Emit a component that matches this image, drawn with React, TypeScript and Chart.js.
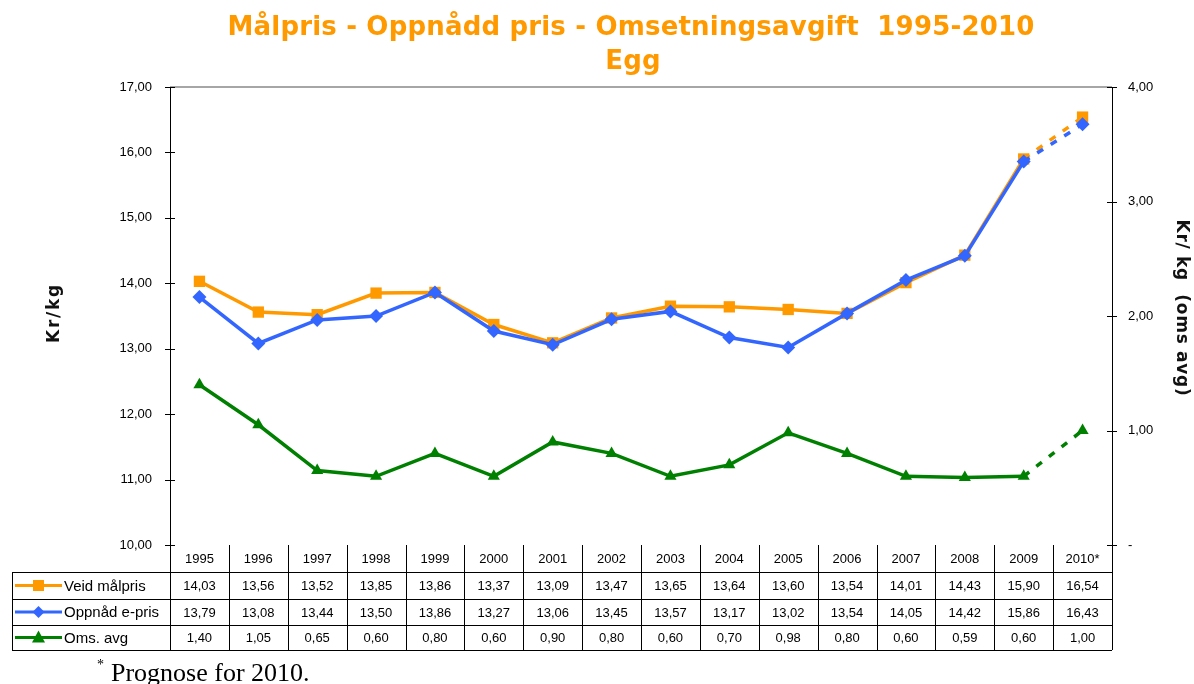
import { useEffect, useRef } from 'react';
import { Chart, registerables } from 'chart.js';

Chart.register(...registerables);

const years = ['1995', '1996', '1997', '1998', '1999', '2000', '2001', '2002', '2003', '2004', '2005', '2006', '2007', '2008', '2009', '2010*'];
const veidMalpris = [14.03, 13.56, 13.52, 13.85, 13.86, 13.37, 13.09, 13.47, 13.65, 13.64, 13.60, 13.54, 14.01, 14.43, 15.90, 16.54];
const oppnaddPris = [13.79, 13.08, 13.44, 13.50, 13.86, 13.27, 13.06, 13.45, 13.57, 13.17, 13.02, 13.54, 14.05, 14.42, 15.86, 16.43];
const omsAvg = [1.40, 1.05, 0.65, 0.60, 0.80, 0.60, 0.90, 0.80, 0.60, 0.70, 0.98, 0.80, 0.60, 0.59, 0.60, 1.00];
const seriesNames = ['Veid målpris', 'Oppnåd e-pris', 'Oms. avg'];

const titleLine1 = 'Målpris - Oppnådd pris - Omsetningsavgift  1995-2010';
const titleLine2 = 'Egg';
const leftAxisTitle = 'Kr/kg';
const rightAxisTitle = 'Kr/ kg  (oms avg)';
const footnoteMark = '*';
const footnoteText = 'Prognose for 2010.';

const ORANGE = '#FF9900';
const BLUE = '#3366FF';
const GREEN = '#008000';

const fmt = (v: number) => v.toFixed(2).replace('.', ',');
const lastDash = (ctx: any) => (ctx.p1DataIndex === years.length - 1 ? [7, 9] : undefined);

function drawMarker(ctx: CanvasRenderingContext2D, kind: string, x: number, y: number, color: string) {
  ctx.save();
  ctx.fillStyle = color;
  ctx.beginPath();
  if (kind === 'rect') {
    ctx.rect(x - 5.5, y - 5.5, 11, 11);
  } else if (kind === 'diamond') {
    ctx.moveTo(x, y - 6);
    ctx.lineTo(x + 6, y);
    ctx.lineTo(x, y + 6);
    ctx.lineTo(x - 6, y);
    ctx.closePath();
  } else {
    ctx.moveTo(x, y - 7);
    ctx.lineTo(x + 6.5, y + 5);
    ctx.lineTo(x - 6.5, y + 5);
    ctx.closePath();
  }
  ctx.fill();
  ctx.restore();
}

function fitSpacing(ctx: CanvasRenderingContext2D, text: string, target: number) {
  (ctx as any).letterSpacing = '0px';
  const w = ctx.measureText(text).width;
  const s = (target - w) / text.length;
  (ctx as any).letterSpacing = `${Math.max(-1.5, Math.min(3, s))}px`;
}

const decorPlugin = {
  id: 'decor',
  afterDraw(chart: any) {
    const ctx: CanvasRenderingContext2D = chart.ctx;
    const area = chart.chartArea;
    const xs = chart.scales.x;
    const yl = chart.scales.y;
    const yr = chart.scales.y1;
    const colW = (area.right - area.left) / years.length;

    ctx.save();
    // top border of plot
    ctx.strokeStyle = '#888888';
    ctx.lineWidth = 1.5;
    ctx.beginPath();
    ctx.moveTo(area.left, area.top);
    ctx.lineTo(area.right, area.top);
    ctx.stroke();

    // tick marks crossing axes
    ctx.strokeStyle = '#000';
    ctx.lineWidth = 1;
    yl.ticks.forEach((t: any) => {
      const y = Math.round(yl.getPixelForValue(t.value)) + 0.5;
      ctx.beginPath();
      ctx.moveTo(area.left - 5, y);
      ctx.lineTo(area.left + 5, y);
      ctx.stroke();
    });
    yr.ticks.forEach((t: any) => {
      const y = Math.round(yr.getPixelForValue(t.value)) + 0.5;
      ctx.beginPath();
      ctx.moveTo(area.right - 5, y);
      ctx.lineTo(area.right + 5, y);
      ctx.stroke();
    });

    // data table
    const hTop = area.bottom;
    const rowH = [27, 27, 26, 25];
    const rowTops = [hTop];
    for (let i = 0; i < rowH.length; i++) rowTops.push(rowTops[i] + rowH[i]);
    const tableBottom = rowTops[rowTops.length - 1];
    const legLeft = 12;

    ctx.strokeStyle = '#000';
    ctx.lineWidth = 1;
    for (let r = 1; r < rowTops.length; r++) {
      const y = Math.round(rowTops[r]) + 0.5;
      ctx.beginPath();
      ctx.moveTo(legLeft, y);
      ctx.lineTo(area.right, y);
      ctx.stroke();
    }
    for (let c = 0; c <= years.length; c++) {
      const x = Math.round(area.left + c * colW) + 0.5;
      ctx.beginPath();
      ctx.moveTo(x, hTop);
      ctx.lineTo(x, tableBottom);
      ctx.stroke();
    }
    ctx.beginPath();
    ctx.moveTo(legLeft + 0.5, rowTops[1]);
    ctx.lineTo(legLeft + 0.5, tableBottom);
    ctx.stroke();

    ctx.fillStyle = '#000';
    ctx.font = '13px "Liberation Sans", Arial, sans-serif';
    ctx.textAlign = 'center';
    ctx.textBaseline = 'middle';
    const cy = (r: number) => (rowTops[r] + rowTops[r + 1]) / 2 + 1;
    years.forEach((yr2, i) => {
      const x = xs.getPixelForValue(i);
      ctx.fillText(yr2, x, cy(0));
      ctx.fillText(fmt(veidMalpris[i]), x, cy(1));
      ctx.fillText(fmt(oppnaddPris[i]), x, cy(2));
      ctx.fillText(fmt(omsAvg[i]), x, cy(3));
    });

    // legend cells
    const legendDefs = [
      { color: ORANGE, kind: 'rect' },
      { color: BLUE, kind: 'diamond' },
      { color: GREEN, kind: 'triangle' },
    ];
    ctx.textAlign = 'left';
    ctx.font = '15px "Liberation Sans", Arial, sans-serif';
    legendDefs.forEach((d, i) => {
      const y = cy(i + 1) - 1;
      ctx.strokeStyle = d.color;
      ctx.lineWidth = 3;
      ctx.beginPath();
      ctx.moveTo(15, y);
      ctx.lineTo(62, y);
      ctx.stroke();
      drawMarker(ctx, d.kind, 38.5, y, d.color);
      ctx.fillStyle = '#000';
      ctx.fillText(seriesNames[i], 64, y + 1);
    });

    // title
    ctx.fillStyle = ORANGE;
    ctx.textAlign = 'center';
    ctx.textBaseline = 'alphabetic';
    ctx.font = 'bold 26px "DejaVu Sans", Verdana, sans-serif';
    fitSpacing(ctx, titleLine1, 807);
    ctx.fillText(titleLine1, 631, 35);
    ctx.fillText(titleLine2, 633, 69);
    (ctx as any).letterSpacing = '0px';

    // axis titles
    ctx.fillStyle = '#111';
    ctx.font = 'bold 17px "DejaVu Sans", Verdana, sans-serif';
    ctx.textBaseline = 'middle';
    ctx.save();
    fitSpacing(ctx, leftAxisTitle, 60);
    ctx.translate(55, 313);
    ctx.rotate(-Math.PI / 2);
    ctx.fillText(leftAxisTitle, 0, 0);
    ctx.restore();
    ctx.save();
    fitSpacing(ctx, rightAxisTitle, 177);
    ctx.translate(1181, 308);
    ctx.rotate(Math.PI / 2);
    ctx.fillText(rightAxisTitle, 0, 0);
    ctx.restore();
    (ctx as any).letterSpacing = '0px';

    // footnote
    ctx.fillStyle = '#000';
    ctx.textAlign = 'left';
    ctx.textBaseline = 'alphabetic';
    ctx.font = '14px "Liberation Serif", "Times New Roman", serif';
    ctx.fillText(footnoteMark, 97, 669);
    ctx.font = '26px "Liberation Serif", "Times New Roman", serif';
    ctx.fillText(footnoteText, 111, 681);

    ctx.restore();
  },
};

export default function App() {
  const ref = useRef<HTMLCanvasElement>(null);
  useEffect(() => {
    document.body.style.margin = '0';
    const canvas = ref.current!;
    const chart = new Chart(canvas, {
      type: 'line',
      data: {
        labels: years,
        datasets: [
          {
            label: seriesNames[1],
            data: oppnaddPris,
            yAxisID: 'y',
            borderColor: BLUE,
            backgroundColor: BLUE,
            borderWidth: 3.5,
            pointStyle: 'rectRot',
            pointRadius: 7,
            pointBorderWidth: 0,
            order: 0,
            segment: { borderDash: lastDash },
          },
          {
            label: seriesNames[0],
            data: veidMalpris,
            yAxisID: 'y',
            borderColor: ORANGE,
            backgroundColor: ORANGE,
            borderWidth: 3.5,
            pointStyle: 'rect',
            pointRadius: 8,
            pointBorderWidth: 0,
            order: 1,
            segment: { borderDash: lastDash },
          },
          {
            label: seriesNames[2],
            data: omsAvg,
            yAxisID: 'y1',
            borderColor: GREEN,
            backgroundColor: GREEN,
            borderWidth: 3.5,
            pointStyle: 'triangle',
            pointRadius: 7,
            pointBorderWidth: 0,
            order: 2,
            segment: { borderDash: lastDash },
          },
        ],
      },
      options: {
        responsive: false,
        animation: false,
        layout: { padding: { top: 87, bottom: 139, left: 0, right: 0 } },
        plugins: {
          legend: { display: false },
          title: { display: false },
          tooltip: { enabled: false },
        },
        scales: {
          x: {
            type: 'category',
            offset: true,
            display: false,
          },
          y: {
            position: 'left',
            min: 10,
            max: 17,
            afterFit: (s: any) => { s.width = 170; },
            grid: { display: false, drawTicks: false },
            border: { display: true, color: '#000', width: 1 },
            ticks: {
              stepSize: 1,
              padding: 18,
              color: '#000',
              font: { family: '"Liberation Sans", Arial, sans-serif', size: 13 },
              callback: (v: any) => fmt(Number(v)),
            },
          },
          y1: {
            position: 'right',
            min: 0,
            max: 4,
            afterFit: (s: any) => { s.width = 82; },
            grid: { display: false, drawTicks: false },
            border: { display: true, color: '#000', width: 1 },
            ticks: {
              stepSize: 1,
              padding: 16,
              color: '#000',
              font: { family: '"Liberation Sans", Arial, sans-serif', size: 13 },
              callback: (v: any) => (Number(v) === 0 ? '-' : fmt(Number(v))),
            },
          },
        },
      },
      plugins: [decorPlugin],
    });
    return () => chart.destroy();
  }, []);
  return (
    <div style={{ width: 1194, height: 684, position: 'relative', background: '#fff' }}>
      <canvas ref={ref} width={1194} height={684} style={{ display: 'block' }} />
    </div>
  );
}
